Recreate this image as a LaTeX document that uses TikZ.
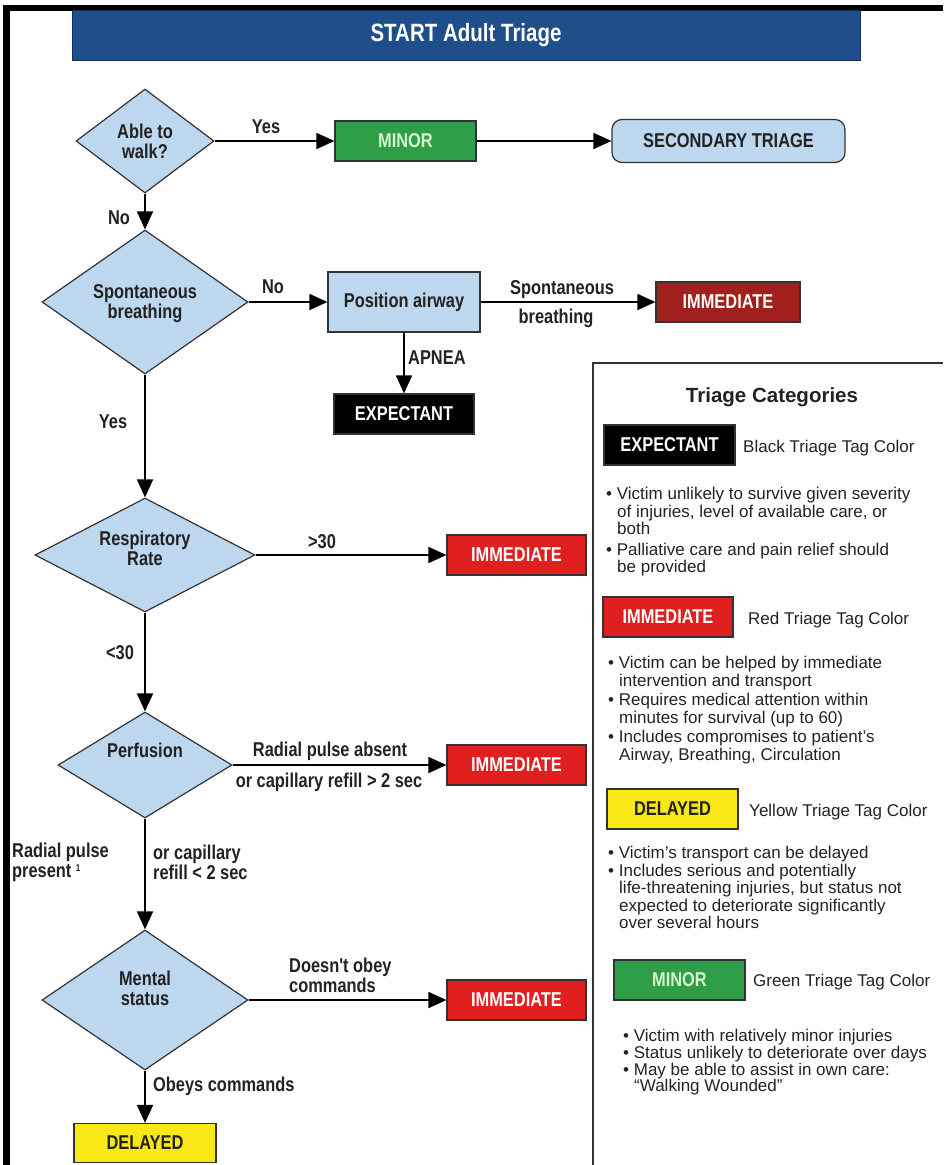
\documentclass[tikz,border=0pt]{standalone}
\usepackage{fontspec}
\setmainfont{Liberation Sans}
\newfontfamily\narrow{Liberation Sans}[FakeStretch=0.82]
\usetikzlibrary{shapes.geometric,arrows.meta}
\definecolor{hdrblue}{HTML}{1F4F8B}
\definecolor{ltblue}{HTML}{BDD7EE}
\definecolor{tggreen}{HTML}{2E9E48}
\definecolor{mintext}{HTML}{D4F5CF}
\definecolor{darkred}{HTML}{A11F1C}
\definecolor{tgred}{HTML}{E0201F}
\definecolor{tgyellow}{HTML}{F9E816}
\definecolor{edgegray}{HTML}{333333}
\definecolor{txt}{HTML}{222222}
\newcommand\dfont{\narrow\bfseries\fontsize{20}{20}\selectfont}
\newcommand\lfont{\fontsize{17}{17.5}\selectfont}
\begin{document}
\begin{tikzpicture}[x=1pt,y=-1pt,
  dia/.style={diamond, draw=edgegray, line width=1.2pt, fill=ltblue, inner sep=0pt},
  lbl/.style={font=\dfont, text=txt, inner sep=0pt},
  tagbox/.style={draw=edgegray, line width=1.2pt, minimum width=140pt, minimum height=40pt, inner sep=0pt, font=\dfont},
  conn/.style={line width=1.8pt, draw=black, -{Triangle[length=18pt,width=16pt]}},
  ltext/.style={font=\lfont, text=txt, inner sep=0pt, align=left},
]
\useasboundingbox (0,0) rectangle (943,1165);
% frame
\fill[black] (3,5) rectangle (10,1165);
\fill[black] (3,5) rectangle (943,11);
% header
\node[fill=hdrblue, draw=hdrblue!60!black, line width=1pt, minimum width=788pt, minimum height=50pt, text=white, font=\narrow\bfseries\fontsize{25}{25}\selectfont] (title) at (466,35) {START Adult Triage};

% diamonds
\node[dia, minimum width=138pt, minimum height=104pt] (walk) at (145,141) {};
\node[lbl, align=center] (twalk) at (145,141) {Able to\\walk?};
\node[dia, minimum width=206pt, minimum height=144pt] (spont) at (145,302) {};
\node[lbl, align=center] (tspont) at (145,304) {Spontaneous\\breathing};
\node[dia, minimum width=220pt, minimum height=114pt] (resp) at (145,555) {};
\node[lbl, align=center] (tresp) at (145,548) {Respiratory\\Rate};
\node[dia, minimum width=174pt, minimum height=106pt] (perf) at (145,765) {};
\node[lbl] (tperf) at (145,750) {Perfusion};
\node[dia, minimum width=206pt, minimum height=140pt] (mental) at (145,1000) {};
\node[lbl, align=center] (tmental) at (145,988) {Mental\\status};

% boxes
\node[tagbox, fill=tggreen, text=mintext, minimum width=141pt] (minor) at (405.5,141) {MINOR};
\node[tagbox, fill=ltblue, text=txt, rounded corners=10pt, minimum width=233pt, minimum height=43pt] (second) at (728.5,141) {SECONDARY TRIAGE};
\node[tagbox, fill=ltblue, text=txt, minimum width=152pt, minimum height=60pt] (airway) at (404,302) {Position airway};
\node[tagbox, fill=darkred, text=white, minimum width=144pt] (immd) at (728,302) {IMMEDIATE};
\node[tagbox, fill=black, text=white] (expect) at (404,414) {EXPECTANT};
\node[tagbox, fill=tgred, text=white, minimum width=139pt] (imm1) at (516.5,555) {IMMEDIATE};
\node[tagbox, fill=tgred, text=white, minimum width=139pt] (imm2) at (516.5,765) {IMMEDIATE};
\node[tagbox, fill=tgred, text=white, minimum width=139pt] (imm3) at (516.5,1000) {IMMEDIATE};
\node[tagbox, fill=tgyellow, text=txt, minimum width=142pt, minimum height=39pt] (delayed) at (145,1143) {DELAYED};

% connectors
\draw[conn] (walk.east) -- (minor.west);
\draw[conn] (minor.east) -- (second.west);
\draw[conn] (walk.south) -- (spont.north);
\draw[conn] (spont.east) -- (airway.west);
\draw[conn] (airway.east) -- (immd.west);
\draw[conn] (airway.south) -- (expect.north);
\draw[conn] (spont.south) -- (resp.north);
\draw[conn] (resp.east) -- (imm1.west);
\draw[conn] (resp.south) -- (perf.north);
\draw[conn] (perf.east) -- (imm2.west);
\draw[conn] (perf.south) -- (mental.north);
\draw[conn] (mental.east) -- (imm3.west);
\draw[conn] (mental.south) -- (delayed.north);

% connector labels
\node[lbl] (lyes1) at (266,127) {Yes};
\node[lbl] (lno1) at (119,218) {No};
\node[lbl] (lno2) at (273,287) {No};
\node[lbl] (lsp1) at (562,290) {Spontaneous};
\node[lbl] (lsp2) at (556,318) {breathing};
\node[lbl, anchor=west] (lapnea) at (408,358) {APNEA};
\node[lbl] (lyes2) at (113,422) {Yes};
\node[lbl] (lgt30) at (322,542) {>30};
\node[lbl] (llt30) at (120,653) {<30};
\node[lbl] (lrpa) at (330,751) {Radial pulse absent};
\node[lbl] (lcr1) at (329,782) {or capillary refill > 2 sec};
\node[lbl, anchor=west, align=left] (lrpp) at (12,862) {Radial pulse\\present \raisebox{6pt}{\fontsize{10}{10}\selectfont 1}};
\node[lbl, anchor=west, align=left] (lcr2) at (153,862) {or capillary\\refill < 2 sec};
\node[lbl, anchor=west, align=left] (ldoc) at (289,975) {Doesn't obey\\commands};
\node[lbl, anchor=west] (lobey) at (153,1086) {Obeys commands};

% legend
\draw[edgegray, line width=1.2pt] (943,363) -- (593,363) -- (593,1165);
\node[font=\bfseries\fontsize{20.5}{20.5}\selectfont, text=txt] (ltitle) at (772,397) {Triage Categories};

\node[tagbox, fill=black, text=white, minimum width=131pt] (gexp) at (669.5,445) {EXPECTANT};
\node[ltext, anchor=west] (gexpt) at (743,448) {Black Triage Tag Color};
\node[ltext, anchor=north west] (gexpb) at (606,487) {\textbullet\ Victim unlikely to survive given severity\\
\hspace*{11pt}of injuries, level of available care, or\\
\hspace*{11pt}both\\[3pt]
\textbullet\ Palliative care and pain relief should\\
\hspace*{11pt}be provided};

\node[tagbox, fill=tgred, text=white, minimum width=130pt] (gimm) at (668,617) {IMMEDIATE};
\node[ltext, anchor=west] (gimmt) at (748,620) {Red Triage Tag Color};
\node[ltext, anchor=north west] (gimmb) at (608,656) {\textbullet\ Victim can be helped by immediate\\
\hspace*{11pt}intervention and transport\\[2pt]
\textbullet\ Requires medical attention within\\
\hspace*{11pt}minutes for survival (up to 60)\\[2pt]
\textbullet\ Includes compromises to patient's\\
\hspace*{11pt}Airway, Breathing, Circulation};

\node[tagbox, fill=tgyellow, text=txt, minimum width=131pt] (gdel) at (672.5,809) {DELAYED};
\node[ltext, anchor=west] (gdelt) at (749,812) {Yellow Triage Tag Color};
\node[ltext, anchor=north west] (gdelb) at (608,846) {\textbullet\ Victim's transport can be delayed\\
\textbullet\ Includes serious and potentially\\
\hspace*{11pt}life-threatening injuries, but status not\\
\hspace*{11pt}expected to deteriorate significantly\\
\hspace*{11pt}over several hours};

\node[tagbox, fill=tggreen, text=mintext, minimum width=131pt] (gmin) at (679.5,980) {MINOR};
\node[ltext, anchor=west] (gmint) at (753,982) {Green Triage Tag Color};
\node[ltext, anchor=north west, font=\fontsize{17}{16.8}\selectfont] (gminb) at (623,1029) {\textbullet\ Victim with relatively minor injuries\\
\textbullet\ Status unlikely to deteriorate over days\\
\textbullet\ May be able to assist in own care:\\
\hspace*{11pt}“Walking Wounded”};
\end{tikzpicture}
\end{document}
